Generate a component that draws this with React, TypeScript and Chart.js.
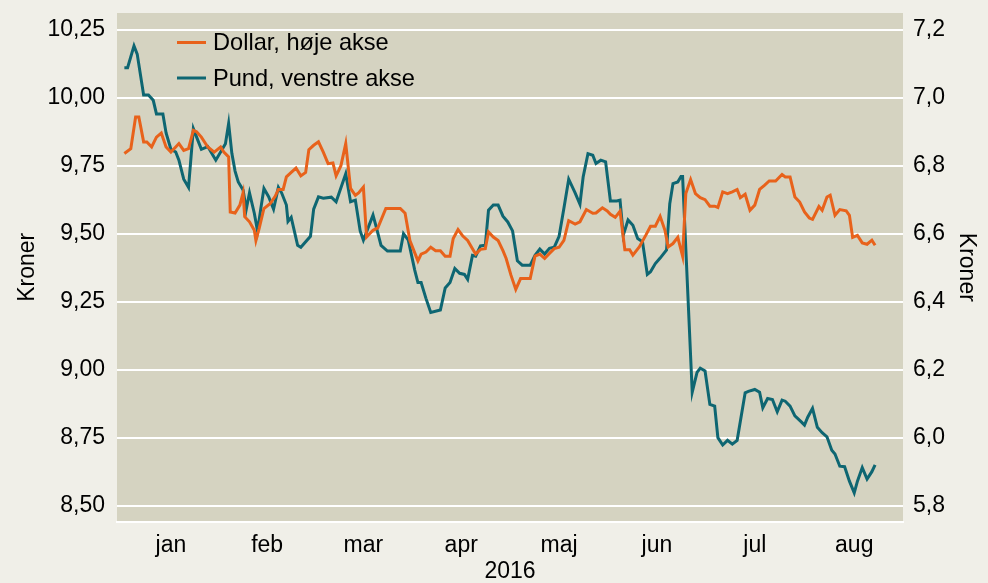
import React, { useEffect, useRef } from "react";
import { Chart, registerables } from "chart.js";

Chart.register(...registerables);

// Days since 1 Jan 2016 (0 = 1 Jan) and values
const pundDays = [1, 2, 4, 5, 7, 8.5, 10, 11, 13, 14, 15.5, 17, 18, 19.5, 21, 22.5, 24, 25, 27, 28.5, 29.5, 31.5, 32.5, 33.5, 34.5, 35.5, 36.5, 38, 39, 40, 41.5, 42.5, 43.5, 44.5, 46, 47.5, 49, 50, 51.5, 52, 53, 55, 56, 59, 60, 61.5, 63, 65.5, 67, 70, 71.5, 73, 74.5, 75.5, 78.5, 79.5, 81, 83, 87, 88, 89.5, 91.5, 92.5, 93.5, 95, 96.5, 99.5, 101, 102.5, 104, 105.5, 107, 108, 109.5, 110.5, 112, 113.5, 114.5, 116, 117.5, 119, 120.5, 122, 123.5, 125, 127.5, 129, 130.5, 132, 133.5, 135, 136.5, 138, 139.5, 141.5, 143, 144, 145.5, 147, 148, 149.5, 151, 152.5, 154.5, 155.5, 156.5, 158, 159.5, 161, 162.5, 164, 165, 166.5, 168, 170, 171, 172, 173.5, 174.5, 175, 178, 179.5, 180.5, 182, 183.5, 185, 186, 187.5, 189, 190.5, 192, 194.5, 195.5, 197.5, 199, 200, 201.5, 203, 204.5, 206, 207, 208.5, 210, 212, 213, 214, 215.5, 217, 218.5, 220, 221.5, 222.5, 224, 225.5, 227, 228.5, 229.5, 231, 232.5, 234, 235];
const pundValues = [10.11, 10.11, 10.19, 10.16, 10.01, 10.01, 9.99, 9.94, 9.94, 9.87, 9.81, 9.8, 9.77, 9.7, 9.67, 9.886, 9.84, 9.81, 9.82, 9.79, 9.77, 9.81, 9.83, 9.905, 9.795, 9.73, 9.69, 9.66, 9.59, 9.65, 9.575, 9.51, 9.59, 9.666, 9.635, 9.59, 9.67, 9.65, 9.605, 9.545, 9.56, 9.457, 9.45, 9.49, 9.59, 9.635, 9.63, 9.634, 9.617, 9.72, 9.617, 9.623, 9.51, 9.476, 9.568, 9.525, 9.457, 9.436, 9.436, 9.5, 9.476, 9.366, 9.32, 9.32, 9.262, 9.21, 9.219, 9.3, 9.32, 9.372, 9.354, 9.35, 9.332, 9.42, 9.417, 9.455, 9.457, 9.586, 9.605, 9.605, 9.564, 9.543, 9.51, 9.4, 9.384, 9.384, 9.42, 9.443, 9.425, 9.446, 9.45, 9.49, 9.593, 9.7, 9.65, 9.608, 9.708, 9.794, 9.788, 9.758, 9.77, 9.764, 9.62, 9.62, 9.623, 9.494, 9.55, 9.531, 9.482, 9.47, 9.35, 9.36, 9.39, 9.41, 9.44, 9.61, 9.684, 9.69, 9.71, 9.71, 8.917, 8.99, 9.005, 8.995, 8.872, 8.866, 8.75, 8.723, 8.74, 8.726, 8.74, 8.915, 8.92, 8.927, 8.917, 8.86, 8.894, 8.89, 8.845, 8.888, 8.884, 8.866, 8.83, 8.808, 8.796, 8.825, 8.858, 8.788, 8.768, 8.753, 8.704, 8.69, 8.645, 8.643, 8.59, 8.547, 8.59, 8.64, 8.598, 8.625, 8.65];

const dollarDays = [1, 3, 4.5, 5.5, 7, 8, 9.5, 11, 12.5, 14, 15.5, 17, 18, 19.5, 21, 22.5, 23.5, 25, 27, 29, 31, 32, 33.5, 34, 35.5, 37, 38, 38.5, 40, 41.5, 42, 43, 44.5, 46.5, 48, 49, 50.5, 51.5, 53, 54.5, 56, 57.5, 58.5, 60, 61.5, 63, 64.5, 66, 67, 68.5, 70, 71.5, 73, 74, 75.5, 76.5, 78.5, 80, 82.5, 87, 88.5, 90, 92.5, 93.5, 95, 96.5, 98, 99.5, 101, 102.5, 103.5, 105, 106.5, 108, 109.5, 110.5, 112, 113.5, 114.5, 116, 117.5, 119, 120, 121.5, 123, 124.5, 127.5, 129, 130.5, 132, 133.5, 135, 136.5, 138, 139.5, 141.5, 143, 145, 147, 148, 150, 151.5, 152.5, 154, 155.5, 157, 158.5, 159.5, 161.5, 163.5, 165, 166.5, 168, 169.5, 170.5, 172, 173.5, 175, 176, 177.5, 179, 180.5, 182, 183.5, 185, 186, 187.5, 189, 190.5, 192, 193, 194.5, 196, 197.5, 199, 200.5, 202, 204, 206, 207, 208.5, 210, 211.5, 213, 214.5, 215.5, 217.5, 218.5, 220, 221, 222.5, 224, 226, 227, 228, 229.5, 231, 232.5, 234, 235];
const dollarValues = [6.836, 6.85, 6.943, 6.943, 6.87, 6.87, 6.855, 6.884, 6.896, 6.855, 6.84, 6.855, 6.865, 6.845, 6.85, 6.904, 6.9, 6.884, 6.855, 6.84, 6.855, 6.84, 6.826, 6.664, 6.661, 6.684, 6.72, 6.65, 6.635, 6.61, 6.58, 6.615, 6.674, 6.689, 6.71, 6.73, 6.73, 6.767, 6.78, 6.793, 6.77, 6.78, 6.847, 6.86, 6.87, 6.84, 6.806, 6.808, 6.77, 6.8, 6.865, 6.733, 6.713, 6.72, 6.737, 6.59, 6.61, 6.617, 6.674, 6.674, 6.66, 6.58, 6.52, 6.54, 6.546, 6.56, 6.55, 6.55, 6.534, 6.534, 6.586, 6.612, 6.593, 6.58, 6.556, 6.54, 6.554, 6.556, 6.605, 6.59, 6.58, 6.55, 6.527, 6.478, 6.436, 6.468, 6.468, 6.534, 6.54, 6.527, 6.542, 6.556, 6.56, 6.58, 6.638, 6.628, 6.635, 6.671, 6.66, 6.661, 6.676, 6.667, 6.657, 6.648, 6.666, 6.553, 6.553, 6.537, 6.561, 6.595, 6.622, 6.622, 6.651, 6.61, 6.561, 6.571, 6.589, 6.534, 6.718, 6.759, 6.718, 6.706, 6.7, 6.681, 6.681, 6.677, 6.723, 6.718, 6.723, 6.73, 6.706, 6.716, 6.669, 6.684, 6.73, 6.742, 6.755, 6.755, 6.774, 6.767, 6.767, 6.708, 6.693, 6.664, 6.646, 6.642, 6.68, 6.669, 6.708, 6.713, 6.654, 6.671, 6.667, 6.654, 6.589, 6.595, 6.573, 6.569, 6.581, 6.566];

const monthLabels = ["jan", "feb", "mar", "apr", "maj", "jun", "jul", "aug"];
const monthCenters = [15.5, 45.5, 75.5, 106, 136.5, 167, 197.5, 228.5];
const leftTicks = [8.5, 8.75, 9.0, 9.25, 9.5, 9.75, 10.0, 10.25];
const rightTicks = [5.8, 6.0, 6.2, 6.4, 6.6, 6.8, 7.0, 7.2];

const seriesLabels = ["Dollar, høje akse", "Pund, venstre akse"];
const ORANGE = "#e8621b";
const TEAL = "#0e6672";
const OUTER_BG = "#f0efe8";
const PLOT_BG = "#d5d3c1";
const FONT = '"Liberation Sans", Arial, sans-serif';

const fmt = (v: number, d: number) => v.toFixed(d).replace(".", ",");

const bgPlugin = {
  id: "bgPlugin",
  beforeDraw(chart: any) {
    const { ctx, chartArea, width, height } = chart;
    ctx.save();
    ctx.fillStyle = OUTER_BG;
    ctx.fillRect(0, 0, width, height);
    ctx.fillStyle = PLOT_BG;
    ctx.fillRect(chartArea.left, chartArea.top, chartArea.right - chartArea.left, chartArea.bottom - chartArea.top);
    ctx.restore();
  },
};

const legendPlugin = {
  id: "customLegend",
  afterDraw(chart: any) {
    const { ctx } = chart;
    const items = [
      { label: seriesLabels[0], color: ORANGE, y: 42.5 },
      { label: seriesLabels[1], color: TEAL, y: 78 },
    ];
    ctx.save();
    ctx.font = `23.6px ${FONT}`;
    ctx.textBaseline = "middle";
    ctx.textAlign = "left";
    for (const it of items) {
      ctx.strokeStyle = it.color;
      ctx.lineWidth = 3;
      ctx.beginPath();
      ctx.moveTo(177, it.y);
      ctx.lineTo(206, it.y);
      ctx.stroke();
      ctx.fillStyle = "#000";
      ctx.fillText(it.label, 213, it.y + 1);
    }
    ctx.restore();
  },
};

const zeroPad = (s: any) => {
  s.paddingTop = 0;
  s.paddingBottom = 0;
  s.paddingLeft = 0;
  s.paddingRight = 0;
};

export default function App() {
  const ref = useRef<HTMLCanvasElement | null>(null);
  useEffect(() => {
    if (!ref.current) return;
    const chart = new Chart(ref.current, {
      type: "line",
      data: {
        datasets: [
          {
            label: seriesLabels[0],
            data: dollarDays.map((d, i) => ({ x: d, y: dollarValues[i] })),
            borderColor: ORANGE,
            borderWidth: 3,
            pointRadius: 0,
            tension: 0,
            yAxisID: "y1",
          },
          {
            label: seriesLabels[1],
            data: pundDays.map((d, i) => ({ x: d, y: pundValues[i] })),
            borderColor: TEAL,
            borderWidth: 3,
            pointRadius: 0,
            tension: 0,
            yAxisID: "y",
          },
        ],
      },
      options: {
        animation: false,
        responsive: false,
        layout: { padding: { top: 13, left: 0, right: 0, bottom: 0 } },
        plugins: { legend: { display: false }, tooltip: { enabled: false } },
        scales: {
          x: {
            type: "linear",
            min: -1.3,
            max: 243.7,
            afterBuildTicks: (s: any) => {
              s.ticks = monthCenters.map((v) => ({ value: v }));
            },
            afterFit: (s: any) => {
              s.height = 61.3;
              zeroPad(s);
            },
            ticks: {
              callback: (_v: any, i: number) => monthLabels[i],
              font: { family: FONT, size: 23 },
              color: "#000",
              padding: 10,
              maxRotation: 0,
              autoSkip: false,
            },
            grid: { display: false, drawTicks: false },
            border: { display: true, color: "#ffffff", width: 2 },
            title: {
              display: true,
              text: "2016",
              font: { family: FONT, size: 23, lineHeight: 1 },
              color: "#000",
              padding: 0,
            },
          },
          y: {
            type: "linear",
            position: "left",
            min: 8.441,
            max: 10.311,
            afterBuildTicks: (s: any) => {
              s.ticks = leftTicks.map((v) => ({ value: v }));
            },
            afterFit: (s: any) => {
              s.width = 117;
              zeroPad(s);
            },
            ticks: {
              callback: (v: any) => fmt(Number(v), 2),
              font: { family: FONT, size: 23 },
              color: "#000",
              padding: 12,
            },
            grid: { color: "#ffffff", lineWidth: 2, drawTicks: false },
            border: { display: false },
            title: {
              display: true,
              text: "Kroner",
              font: { family: FONT, size: 23 },
              color: "#000",
              padding: 14,
            },
          },
          y1: {
            type: "linear",
            position: "right",
            min: 5.753,
            max: 7.249,
            afterBuildTicks: (s: any) => {
              s.ticks = rightTicks.map((v) => ({ value: v }));
            },
            afterFit: (s: any) => {
              s.width = 85;
              zeroPad(s);
            },
            ticks: {
              callback: (v: any) => fmt(Number(v), 1),
              font: { family: FONT, size: 23 },
              color: "#000",
              padding: 10,
            },
            grid: { display: false, drawTicks: false },
            border: { display: false },
            title: {
              display: true,
              text: "Kroner",
              font: { family: FONT, size: 23 },
              color: "#000",
              padding: 8,
            },
          },
        },
      } as any,
      plugins: [bgPlugin, legendPlugin],
    });
    return () => chart.destroy();
  }, []);

  return (
    <div style={{ position: "fixed", left: 0, top: 0, width: 988, height: 583, background: OUTER_BG }}>
      <canvas ref={ref} width={988} height={583} style={{ display: "block", width: 988, height: 583 }} />
    </div>
  );
}
